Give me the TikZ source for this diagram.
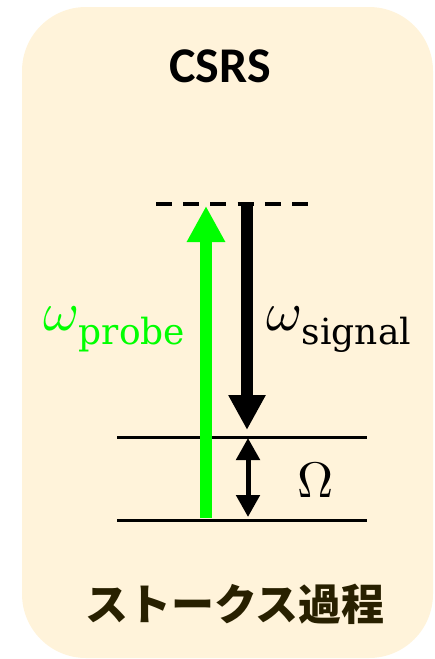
\documentclass[tikz,border=0pt]{standalone}
\usepackage{fontspec}
\usepackage{unicode-math}
\setmathfont{Latin Modern Math}
\newfontfamily\titlefont{Carlito}
\newfontfamily\jpfont{Noto Sans CJK JP}
\newfontfamily\subfont{DejaVu Serif}
\usetikzlibrary{arrows.meta}
\definecolor{boxfill}{HTML}{FFF3DA}
\definecolor{probegreen}{HTML}{00FF00}
\definecolor{jptext}{RGB}{40,32,0}
\tikzset{
  level/.style={line width=3pt},
  virtual/.style={line width=4pt, dash pattern=on 16pt off 11.2pt},
  lbl/.style={inner sep=0pt, anchor=base west},
}
\newcommand{\freqlabel}[1]{\fontsize{55}{60}\selectfont$\omega$\hspace{1pt}\raisebox{-14pt}{\subfont\fontsize{36}{42}\selectfont #1}}
\begin{document}
\begin{tikzpicture}[x=1pt,y=-1pt]
\useasboundingbox (0,0) rectangle (434,659);
\fill[boxfill, rounded corners=64pt] (22,7) rectangle (433,658);
\node[inner sep=0pt, anchor=base] (title) at (220,82) {\titlefont\bfseries\fontsize{50}{60}\selectfont CSRS};
% levels
\coordinate (vl) at (156,204); \coordinate (vr) at (308,204);
\coordinate (ul) at (117,437); \coordinate (ur) at (367,437);
\coordinate (gl) at (117,520); \coordinate (gr) at (367,520);
\draw[virtual] (vl) -- (vr);
\draw[level] (ul) -- (ur);
\draw[level] (gl) -- (gr);
% probe
\coordinate (pb) at (206,518); \coordinate (pt) at (206,206);
\draw[probegreen, line width=12pt, -{Triangle[width=36pt,length=36pt]}] (pb) -- (pt);
% signal
\coordinate (st) at (247,202); \coordinate (sb) at (247,430);
\draw[black, line width=12pt, -{Triangle[width=35pt,length=35pt]}] (st) -- (sb);
% Omega
\coordinate (ot) at (248,438); \coordinate (ob) at (248,517);
\draw[line width=5pt, {Triangle[width=23pt,length=22pt]}-{Triangle[width=23pt,length=22pt]}] (ot) -- (ob);
\node[inner sep=0pt, anchor=base] (omega) at (315.5,497) {\fontsize{50}{60}\selectfont$\Omega$};
\node[lbl, text=probegreen] (wprobe) at (43,330) {\freqlabel{probe}};
\node[lbl] (wsignal) at (266,330) {\freqlabel{signal}};
\node[inner sep=0pt, anchor=base, text=jptext] (jp) at (235,620) {\jpfont\bfseries\fontsize{43}{50}\selectfont ストークス過程};
\end{tikzpicture}
\end{document}
